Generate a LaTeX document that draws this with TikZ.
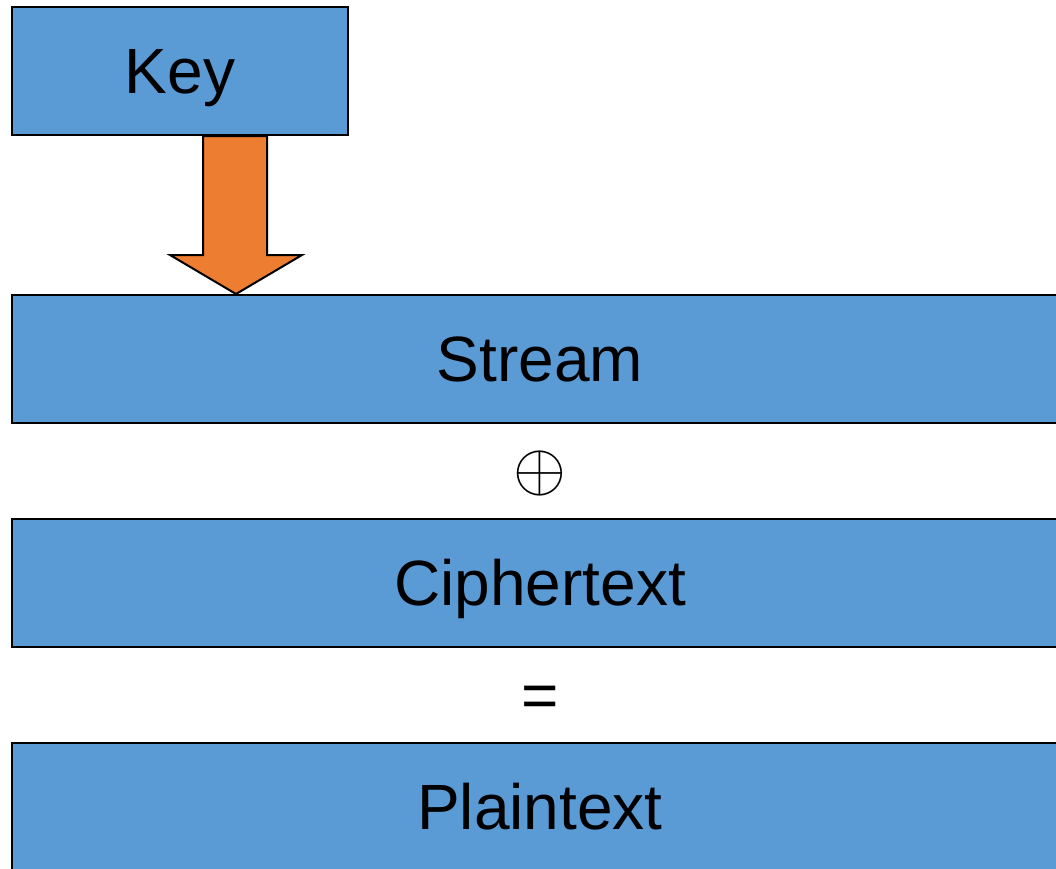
\RequirePackage{fix-cm}
\documentclass[tikz,border=0pt]{standalone}
\usepackage{fontspec}
\setmainfont{Liberation Sans}
\usepackage{xcolor}
\definecolor{boxblue}{RGB}{91,155,213}
\definecolor{keyorange}{RGB}{237,125,49}
\tikzset{
    bar/.style = {draw=black, line width=2pt, fill=boxblue, minimum height=128pt,
                  inner sep=0pt, text height=58pt, text depth=13.6pt,
                  font=\fontsize{64}{72}\selectfont},
    keyarrow/.style = {draw=black, line width=2pt, fill=keyorange}
}

\begin{document}
\begin{tikzpicture}[line join=miter, x=1pt, y=-1pt]
\useasboundingbox (0,0) rectangle (1056,868);

\node[bar, minimum width=336pt] (key) at (180,71) {Key};
\node[bar, minimum width=1056pt] (stream) at (540,359) {Stream};
\node[bar, minimum width=1056pt] (cipher) at (540,583) {Ciphertext};
\node[bar, minimum width=1056pt] (plain) at (540,807) {Plaintext};

\node[font=\fontsize{68}{72}\selectfont, inner sep=0pt] (xor) at (540,473) {$\oplus$};
\node[font=\fontsize{64}{72}\selectfont, inner sep=0pt] (eq) at (540,702) {=};

\draw[keyarrow] (203,0 |- key.south) -- (203,255) -- (170,255) -- (236,0 |- stream.north)
    -- (302,255) -- (267,255) -- (267,0 |- key.south) -- cycle;
\end{tikzpicture}
\end{document}
